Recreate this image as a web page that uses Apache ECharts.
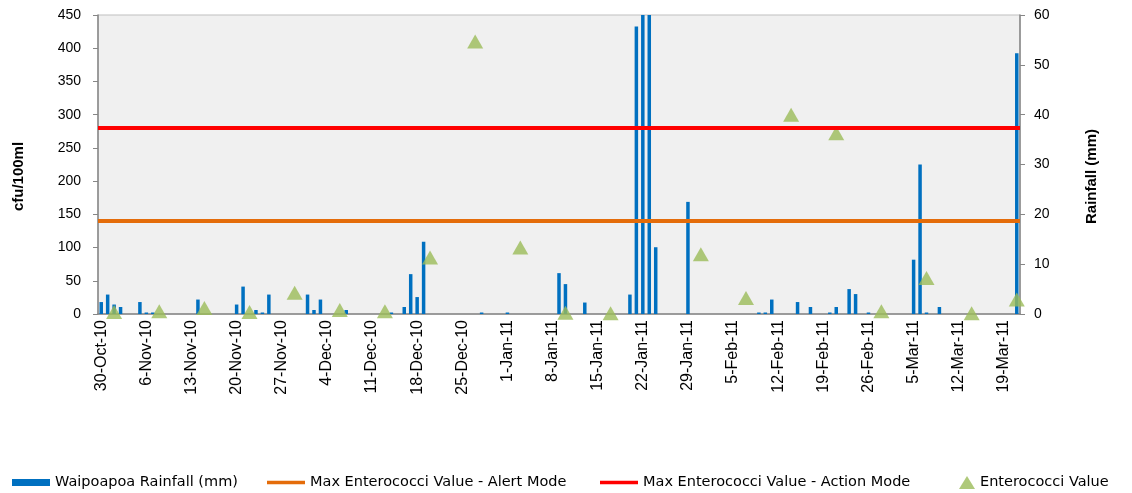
<!DOCTYPE html>
<html>
<head>
<meta charset="utf-8">
<script src="https://cdn.jsdelivr.net/npm/echarts@6/dist/echarts.min.js"></script>
<style>
  html, body { margin: 0; padding: 0; background: #fff; }
  #chart { width: 1132px; height: 493px; }
</style>
</head>
<body>
<div id="chart"></div>
<script>
// daily category axis, 30-Oct-10 .. 21-Mar-11
const START_DATE = [2010, 9, 30];
const DAY_COUNT = 143;
const MONTH_NAMES = ["Jan", "Feb", "Mar", "Apr", "May", "Jun", "Jul", "Aug", "Sep", "Oct", "Nov", "Dec"];

const ALERT_LIMIT = 140;
const ACTION_LIMIT = 280;

const CFU_TICKS = { min: 0, max: 450, interval: 50 };
const RAIN_TICKS = { min: 0, max: 60, interval: 10 };

// Waipoapoa rainfall (mm) on the days it rained
const rainDays = [
  "30-Oct-10", "31-Oct-10", "1-Nov-10", "2-Nov-10", "5-Nov-10", "6-Nov-10", "7-Nov-10",
  "14-Nov-10", "20-Nov-10", "21-Nov-10", "23-Nov-10", "24-Nov-10", "25-Nov-10",
  "1-Dec-10", "2-Dec-10", "3-Dec-10", "7-Dec-10", "14-Dec-10", "16-Dec-10", "17-Dec-10",
  "18-Dec-10", "19-Dec-10", "28-Dec-10", "1-Jan-11", "9-Jan-11", "10-Jan-11", "13-Jan-11",
  "20-Jan-11", "21-Jan-11", "22-Jan-11", "23-Jan-11", "24-Jan-11", "29-Jan-11",
  "9-Feb-11", "10-Feb-11", "11-Feb-11", "15-Feb-11", "17-Feb-11", "20-Feb-11", "21-Feb-11",
  "23-Feb-11", "24-Feb-11", "26-Feb-11", "5-Mar-11", "6-Mar-11", "7-Mar-11", "9-Mar-11",
  "21-Mar-11",
];
const rainMm = [
  2.4, 3.9, 1.9, 1.4, 2.4, 0.3, 0.3,
  2.9, 1.9, 5.5, 0.8, 0.3, 3.9,
  3.9, 0.8, 2.9, 0.8, 0.3, 1.4, 8.0,
  3.4, 14.5, 0.3, 0.3, 8.2, 6.0, 2.3,
  3.9, 57.7, 64, 64, 13.4, 22.5,
  0.3, 0.3, 2.9, 2.4, 1.4, 0.3, 1.4,
  5.0, 4.0, 0.3, 10.9, 30.0, 0.3, 1.4,
  52.3,
];

// Enterococci samples (cfu/100ml)
const sampleDays = [
  "1-Nov-10", "8-Nov-10", "15-Nov-10", "22-Nov-10", "29-Nov-10", "6-Dec-10", "13-Dec-10",
  "20-Dec-10", "27-Dec-10", "3-Jan-11", "10-Jan-11", "17-Jan-11", "31-Jan-11", "7-Feb-11",
  "14-Feb-11", "21-Feb-11", "28-Feb-11", "7-Mar-11", "14-Mar-11", "21-Mar-11",
];
const enterococci = [
  3, 4, 9, 3, 32, 6, 4,
  85, 410, 100, 2, 1, 90, 24,
  300, 272, 4, 54, 1, 22,
];


function formatDay(date) {
  const yy = String(date.getUTCFullYear() % 100).padStart(2, "0");
  return `${date.getUTCDate()}-${MONTH_NAMES[date.getUTCMonth()]}-${yy}`;
}

function buildDays() {
  const days = [];
  for (let i = 0; i < DAY_COUNT; i++) {
    days.push(formatDay(new Date(Date.UTC(START_DATE[0], START_DATE[1], START_DATE[2] + i))));
  }
  return days;
}

function spread(days, keys, values) {
  const lookup = {};
  keys.forEach((key, i) => { lookup[key] = values[i]; });
  return days.map((day) => (day in lookup ? lookup[day] : "-"));
}

function legendItem(name, left, icon, width, height) {
  return {
    data: [{ name, icon }],
    left, top: 470, itemWidth: width, itemHeight: height,
    textStyle: { color: "#000", fontFamily: "DejaVu Sans", fontSize: 14.5 },
  };
}


const days = buildDays();
const axisColor = "#868686";
const narrowFont = "'Liberation Sans Narrow', 'Liberation Sans'";
const titleStyle = {
  color: "#000", fontFamily: narrowFont, fontSize: 15, fontWeight: "bold",
  padding: [0, 24, 0, 0],
};
const valueLabel = { color: "#000", fontFamily: narrowFont, fontSize: 14 };

const chart = echarts.init(document.getElementById("chart"));
chart.setOption({
  animation: false,
  grid: {
    left: 98, right: 112, top: 15, bottom: 179,
    show: true, backgroundColor: "#f0f0f0", borderColor: "#bfbfbf", borderWidth: 1,
  },
  legend: [
    legendItem("Waipoapoa Rainfall (mm)", 7, "rect", 38, 7),
    legendItem("Max Enterococci Value - Alert Mode", 262, "rect", 38, 3.5),
    legendItem("Max Enterococci Value - Action Mode", 595, "rect", 38, 3.5),
    legendItem("Enterococci Value", 954, "triangle", 16, 13),
  ],
  xAxis: {
    type: "category",
    data: days,
    boundaryGap: true,
    axisLine: { lineStyle: { color: axisColor, width: 1.5 } },
    axisTick: { interval: 6, length: 6, lineStyle: { color: axisColor } },
    axisLabel: { color: "#000", fontFamily: "Liberation Sans", fontSize: 16, interval: 6, rotate: 90, margin: 6 },
  },
  yAxis: [
    {
      type: "value",
      ...CFU_TICKS,
      name: "cfu/100ml",
      nameLocation: "middle",
      nameRotate: 90,
      nameGap: 72,
      nameTextStyle: titleStyle,
      axisLine: { show: true, lineStyle: { color: axisColor, width: 1.5 } },
      axisTick: { show: true, length: 5, lineStyle: { color: axisColor } },
      axisLabel: { ...valueLabel, margin: 17 },
      splitLine: { show: false },
    },
    {
      type: "value",
      ...RAIN_TICKS,
      position: "right",
      name: "Rainfall (mm)",
      nameLocation: "middle",
      nameRotate: 90,
      nameGap: 64,
      nameTextStyle: titleStyle,
      axisLine: { show: true, lineStyle: { color: axisColor, width: 1.5 } },
      axisTick: { show: true, length: 5, lineStyle: { color: axisColor } },
      axisLabel: { ...valueLabel, margin: 14 },
      splitLine: { show: false },
    },
  ],
  series: [
    {
      name: "Waipoapoa Rainfall (mm)",
      type: "bar",
      yAxisIndex: 1,
      data: spread(days, rainDays, rainMm),
      barWidth: 3.5,
      itemStyle: { color: "#0070c0" },
      clip: true,
      z: 1,
    },
    {
      name: "Max Enterococci Value - Alert Mode",
      type: "line",
      yAxisIndex: 0,
      data: [],
      symbol: "none",
      itemStyle: { color: "#e46c0a" },
      lineStyle: { color: "#e46c0a", width: 4 },
      markLine: {
        silent: true,
        symbol: ["none", "none"],
        label: { show: false },
        lineStyle: { color: "#e46c0a", width: 4, type: "solid" },
        data: [{ yAxis: ALERT_LIMIT }],
      },
      z: 2,
    },
    {
      name: "Max Enterococci Value - Action Mode",
      type: "line",
      yAxisIndex: 0,
      data: [],
      symbol: "none",
      itemStyle: { color: "#ff0000" },
      lineStyle: { color: "#ff0000", width: 4 },
      markLine: {
        silent: true,
        symbol: ["none", "none"],
        label: { show: false },
        lineStyle: { color: "#ff0000", width: 4, type: "solid" },
        data: [{ yAxis: ACTION_LIMIT }],
      },
      z: 2,
    },
    {
      name: "Enterococci Value",
      type: "scatter",
      yAxisIndex: 0,
      data: spread(days, sampleDays, enterococci),
      symbol: "triangle",
      symbolSize: [16, 14],
      itemStyle: { color: "#9bbb59" },
      z: 3,
    },
  ],
});
</script>
</body>
</html>
